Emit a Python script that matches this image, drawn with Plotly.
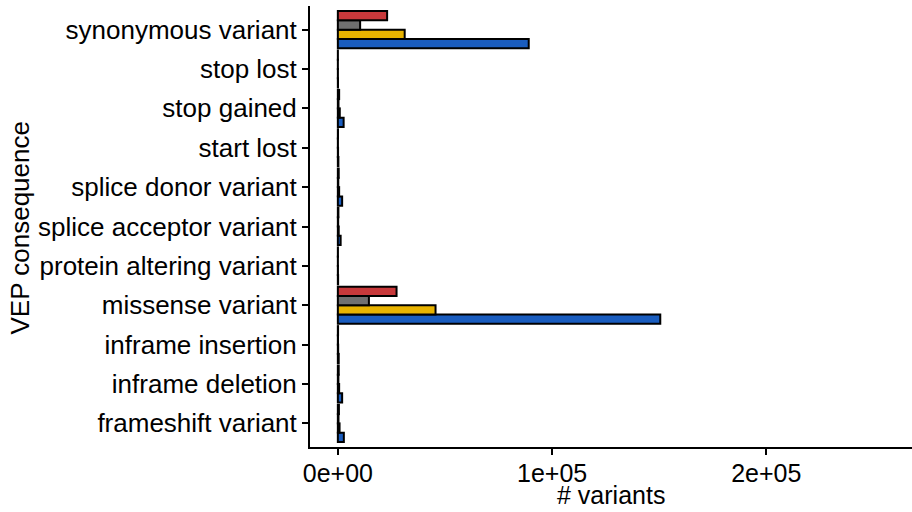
import plotly.graph_objects as go

categories = ["frameshift variant", "inframe deletion", "inframe insertion",
              "missense variant", "protein altering variant", "splice acceptor variant",
              "splice donor variant", "start lost", "stop gained", "stop lost",
              "synonymous variant"]

# series values (same order as categories)
blue_vals   = [2800, 2000, 400, 150500, 120, 1300, 2000, 250, 2700, 80, 89100]
yellow_vals = [800, 600, 150, 45600, 50, 400, 600, 100, 900, 30, 31200]
gray_vals   = [300, 250, 60, 14500, 25, 150, 200, 40, 300, 15, 10400]
red_vals    = [500, 400, 100, 27400, 40, 250, 400, 70, 600, 25, 23000]

series = [
    ("blue", blue_vals, "#1A5DBF"),
    ("yellow", yellow_vals, "#E8B300"),
    ("gray", gray_vals, "#707070"),
    ("red", red_vals, "#C8393B"),
]

x_ticks = [0, 100000, 200000]
x_tick_labels = ["0e+00", "1e+05", "2e+05"]

fig = go.Figure()
for name, vals, col in series:
    fig.add_trace(go.Bar(
        y=categories, x=vals, orientation="h", name=name,
        marker=dict(color=col, line=dict(color="black", width=2)),
        showlegend=False,
    ))

fig.update_layout(
    width=912, height=512,
    margin=dict(l=310, r=0, t=6, b=65),
    paper_bgcolor="white", plot_bgcolor="white",
    barmode="group", bargap=0.06, bargroupgap=0,
    font=dict(family="Liberation Sans, Arial, sans-serif", color="black", size=26),
    annotations=[
        dict(text="# variants", x=0.5, xref="paper", y=0, yref="paper",
             xanchor="center", yanchor="middle", yshift=-48, showarrow=False,
             font=dict(size=25)),
        dict(text="VEP consequence", textangle=-90, x=0, xref="paper", xshift=-291,
             y=0.5, yref="paper", yshift=-2, xanchor="center", yanchor="middle",
             showarrow=False, font=dict(size=26)),
    ],
)
fig.update_xaxes(
    range=[-13000, 268000], tickvals=x_ticks, ticktext=x_tick_labels,
    showline=True, linecolor="black", linewidth=2, mirror=False,
    ticks="outside", ticklen=6, tickwidth=1.5, tickcolor="black",
    showgrid=False, zeroline=False, ticklabelstandoff=-3,
    tickfont=dict(size=25, color="black"),
)
fig.update_yaxes(
    categoryorder="array", categoryarray=categories,
    range=[-0.6, 10.6],
    showline=True, linecolor="black", linewidth=2,
    ticks="outside", ticklen=6, tickwidth=1.5, tickcolor="black",
    showgrid=False, zeroline=False,
    tickfont=dict(size=26, color="black"),
)

fig.write_html("out.html")
